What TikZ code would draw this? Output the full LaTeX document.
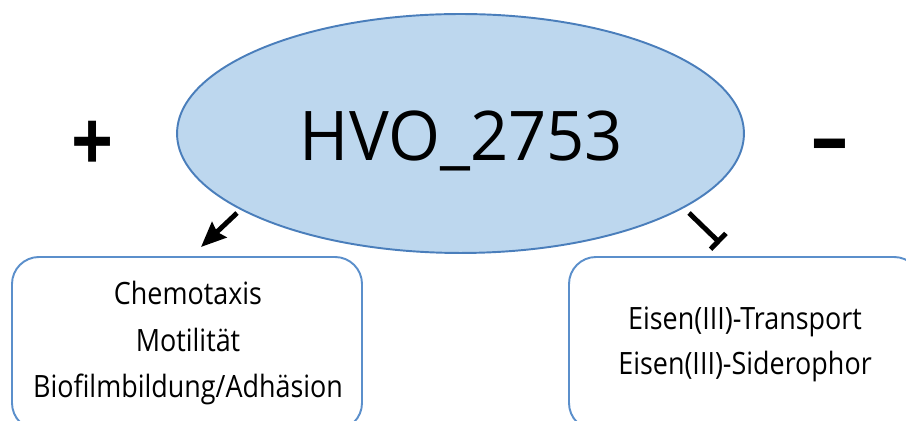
\documentclass[tikz,border=0pt]{standalone}
\usepackage{fontspec}
\setmainfont{Open Sans}[FakeStretch=0.875]
\newfontfamily\namefont{Open Sans}[FakeStretch=0.975]
\usetikzlibrary{arrows.meta,shapes.geometric}
\definecolor{hvofill}{HTML}{BDD7EE}
\definecolor{hvoline}{HTML}{4A7EBB}
\definecolor{boxline}{HTML}{5B8FCB}
\begin{document}
\begin{tikzpicture}[x=0.02cm,y=-0.02cm,
  effect/.style={draw=boxline,line width=1.1pt,rounded corners=0.54cm,inner sep=0pt},
  boxtext/.style={font=\fontsize{17.5}{26.5}\selectfont,align=center},
  sign/.style={font=\fontsize{48}{48}\selectfont\bfseries,inner sep=0pt}]
\useasboundingbox(0,0)rectangle(906,421);
\begin{scope}
\clip(0,0)rectangle(906,421);
\node[ellipse,draw=hvoline,fill=hvofill,line width=1.1pt,minimum width=11.34cm,minimum height=4.78cm,inner sep=0pt](hvo)at(460.5,133.5){};
\node[font=\namefont\fontsize{39}{39}\selectfont,anchor=base](name)at(461.5,161){HVO\_2753};
\draw[effect](12,257)rectangle(362,430);
\draw[effect](569,257)rectangle(921,430);
\end{scope}
\node[boxtext,anchor=base](pos1)at(188,305){Chemotaxis};
\node[boxtext,anchor=base](pos2)at(188,352){Motilität};
\node[boxtext,anchor=base](pos3)at(188,398){Biofilmbildung/Adhäsion};
\node[boxtext,anchor=base](neg1)at(745,330){Eisen(III)-Transport};
\node[boxtext,anchor=base](neg2)at(745,375){Eisen(III)-Siderophor};
\node[sign](plus)at(93,146.5){+};
\node[sign](minus)at(830,153){--};
\coordinate(upA)at(237,213);
\coordinate(upB)at(689,213);
\coordinate(boxA)at(201,247);
\coordinate(boxB)at(720,243);
\draw[-{Stealth[length=5mm,width=4.2mm,inset=0.6mm]},line width=2.8pt](upA)--(boxA);
\draw[-{Bar[width=4.4mm]},line width=2.8pt](upB)--(boxB);
\end{tikzpicture}
\end{document}
